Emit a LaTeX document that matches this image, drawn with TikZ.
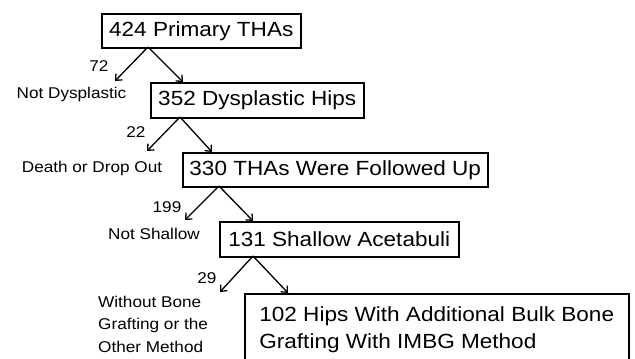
\documentclass[tikz,border=0pt]{standalone}
\usepackage{fontspec}
\setmainfont[FakeStretch=1.1]{Liberation Sans}
\usetikzlibrary{arrows.meta, positioning}

\begin{document}
\begin{tikzpicture}[
        x=1pt, y=-1pt,
        box/.style={draw, line width=1.5pt, anchor=north west, inner sep=4pt, align=left, font=\fontsize{20.5}{27}\selectfont},
        side/.style={inner sep=0pt, font=\fontsize{15.6}{22.5}\selectfont},
        arrow/.style={line width=1.3pt, -{Straight Barb[length=5pt, width=9pt]}}
    ]
    \useasboundingbox (0,0) rectangle (635,359);

    % Boxes
    \node[box, minimum width=199pt, minimum height=34pt] (primary) at (101,13) {424 Primary THAs};
    \node[box, minimum width=213pt, minimum height=35pt] (dysplastic) at (150,82) {352 Dysplastic Hips};
    \node[box, minimum width=305pt, minimum height=34pt] (followed) at (182,152) {330 THAs Were Followed Up};
    \node[box, minimum width=239pt, minimum height=35pt] (shallow) at (219,221) {131 Shallow Acetabuli};
    \node[box, minimum width=384pt, minimum height=71pt] (bulk) at (244,293) {102 Hips With Additional Bulk Bone\\Grafting With IMBG Method};

    % Excluded
    \node[side] (n72) at (99,66) {72};
    \node[side] (notdys) at (71.5,94) {Not Dysplastic};
    \node[side] (n22) at (136,132) {22};
    \node[side] (death) at (92,168) {Death or Drop Out};
    \node[side] (n199) at (167,207) {199};
    \node[side] (notsha) at (154,234) {Not Shallow};
    \node[side] (n29) at (207,278) {29};
    \node[side, anchor=west, align=left] (without) at (98,324) {Without Bone\\Grafting or the\\Other Method};

    % Arrows
    \coordinate (top1) at (148,47);
    \coordinate (left1) at (115,81);
    \coordinate (right1) at (183,82);
    \coordinate (top2) at (180,117);
    \coordinate (left2) at (147,151);
    \coordinate (right2) at (212,152);
    \coordinate (top3) at (219,186);
    \coordinate (left3) at (185,220);
    \coordinate (right3) at (253,221);
    \coordinate (top4) at (253,256);
    \coordinate (left4) at (220,292);
    \coordinate (right4) at (288,293);

    \draw[arrow] (top1) -- (left1);
    \draw[arrow] (top1) -- (right1);
    \draw[arrow] (top2) -- (left2);
    \draw[arrow] (top2) -- (right2);
    \draw[arrow] (top3) -- (left3);
    \draw[arrow] (top3) -- (right3);
    \draw[arrow] (top4) -- (left4);
    \draw[arrow] (top4) -- (right4);

\end{tikzpicture}
\end{document}
